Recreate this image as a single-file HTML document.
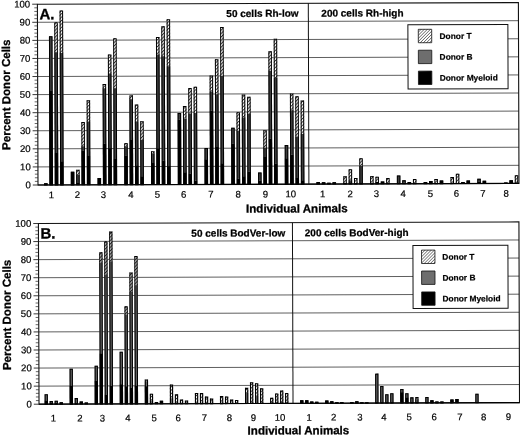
<!DOCTYPE html>
<html><head><meta charset="utf-8"><title>Figure</title>
<style>
html,body{margin:0;padding:0;background:#fff;}
body{width:520px;height:436px;overflow:hidden;}
svg{display:block;}
text{font-family:"Liberation Sans",Arial,Helvetica,sans-serif;fill:#111;}
.tk{font-size:9.6px;fill:#000;stroke:#000;stroke-width:0.2px;}
.pl{font-size:15px;font-weight:bold;fill:#000;stroke:#000;stroke-width:0.3px;}
.hd{font-size:10px;font-weight:bold;fill:#000;stroke:#000;stroke-width:0.25px;}
.ti{font-size:11.55px;font-weight:bold;fill:#000;stroke:#000;stroke-width:0.3px;}
.lg{font-size:8.4px;font-weight:bold;fill:#000;stroke:#000;stroke-width:0.2px;}
</style></head><body>
<svg width="520" height="436" viewBox="0 0 520 436">
<defs>
<pattern id="hatch" width="2.4" height="2.4" patternUnits="userSpaceOnUse" patternTransform="rotate(-45)">
<rect width="2.4" height="2.4" fill="#fff"/><rect width="2.4" height="0.9" fill="#333"/></pattern>
<pattern id="hatchL" width="2.2" height="2.2" patternUnits="userSpaceOnUse" patternTransform="rotate(-45)">
<rect width="2.2" height="2.2" fill="#fff"/><rect width="2.2" height="0.6" fill="#444"/></pattern>
</defs>
<rect width="520" height="436" fill="#fff"/>
<g transform="rotate(-0.19 37.6 4.2)">
<line x1="37.4" y1="166.92" x2="518.4" y2="166.92" stroke="#2a2a2a" stroke-width="0.75"/>
<line x1="37.4" y1="148.84" x2="518.4" y2="148.84" stroke="#2a2a2a" stroke-width="0.75"/>
<line x1="37.4" y1="130.76" x2="518.4" y2="130.76" stroke="#2a2a2a" stroke-width="0.75"/>
<line x1="37.4" y1="112.68" x2="518.4" y2="112.68" stroke="#2a2a2a" stroke-width="0.75"/>
<line x1="37.4" y1="94.60" x2="518.4" y2="94.60" stroke="#2a2a2a" stroke-width="0.75"/>
<line x1="37.4" y1="76.52" x2="518.4" y2="76.52" stroke="#2a2a2a" stroke-width="0.75"/>
<line x1="37.4" y1="58.44" x2="518.4" y2="58.44" stroke="#2a2a2a" stroke-width="0.75"/>
<line x1="37.4" y1="40.36" x2="518.4" y2="40.36" stroke="#2a2a2a" stroke-width="0.75"/>
<line x1="37.4" y1="22.28" x2="518.4" y2="22.28" stroke="#2a2a2a" stroke-width="0.75"/>
<rect x="43.50" y="183.19" width="3.50" height="1.81" fill="#000"/>
<rect x="44.00" y="183.69" width="2.50" height="1.31" fill="none" stroke="#000" stroke-width="1.0"/>
<rect x="48.85" y="36.20" width="3.50" height="54.78" fill="#3e3e3e"/>
<rect x="48.85" y="90.98" width="3.50" height="94.02" fill="#000"/>
<rect x="49.35" y="36.70" width="2.50" height="148.30" fill="none" stroke="#000" stroke-width="1.0"/>
<rect x="54.20" y="22.28" width="3.50" height="30.01" fill="url(#hatch)"/>
<rect x="54.20" y="52.29" width="3.50" height="100.89" fill="#3e3e3e"/>
<rect x="54.20" y="153.18" width="3.50" height="31.82" fill="#000"/>
<rect x="54.70" y="22.78" width="2.50" height="162.22" fill="none" stroke="#000" stroke-width="1.0"/>
<rect x="59.55" y="10.53" width="3.50" height="42.49" fill="url(#hatch)"/>
<rect x="59.55" y="53.02" width="3.50" height="108.30" fill="#3e3e3e"/>
<rect x="59.55" y="161.32" width="3.50" height="23.68" fill="#000"/>
<rect x="60.05" y="11.03" width="2.50" height="173.97" fill="none" stroke="#000" stroke-width="1.0"/>
<rect x="70.25" y="171.98" width="3.50" height="13.02" fill="#000"/>
<rect x="70.75" y="172.48" width="2.50" height="12.52" fill="none" stroke="#000" stroke-width="1.0"/>
<rect x="75.60" y="169.99" width="3.50" height="5.06" fill="url(#hatch)"/>
<rect x="75.60" y="175.06" width="3.50" height="8.14" fill="#3e3e3e"/>
<rect x="75.60" y="183.19" width="3.50" height="1.81" fill="#000"/>
<rect x="76.10" y="170.49" width="2.50" height="14.51" fill="none" stroke="#000" stroke-width="1.0"/>
<rect x="80.95" y="122.26" width="3.50" height="24.05" fill="url(#hatch)"/>
<rect x="80.95" y="146.31" width="3.50" height="4.52" fill="#3e3e3e"/>
<rect x="80.95" y="150.83" width="3.50" height="34.17" fill="#000"/>
<rect x="81.45" y="122.76" width="2.50" height="62.24" fill="none" stroke="#000" stroke-width="1.0"/>
<rect x="86.30" y="100.39" width="3.50" height="21.33" fill="url(#hatch)"/>
<rect x="86.30" y="121.72" width="3.50" height="34.53" fill="#3e3e3e"/>
<rect x="86.30" y="156.25" width="3.50" height="28.75" fill="#000"/>
<rect x="86.80" y="100.89" width="2.50" height="84.11" fill="none" stroke="#000" stroke-width="1.0"/>
<rect x="97.00" y="178.31" width="3.50" height="6.69" fill="#000"/>
<rect x="97.50" y="178.81" width="2.50" height="6.19" fill="none" stroke="#000" stroke-width="1.0"/>
<rect x="102.35" y="84.11" width="3.50" height="4.34" fill="url(#hatch)"/>
<rect x="102.35" y="88.45" width="3.50" height="55.51" fill="#3e3e3e"/>
<rect x="102.35" y="143.96" width="3.50" height="41.04" fill="#000"/>
<rect x="102.85" y="84.61" width="2.50" height="100.39" fill="none" stroke="#000" stroke-width="1.0"/>
<rect x="107.70" y="54.82" width="3.50" height="18.98" fill="url(#hatch)"/>
<rect x="107.70" y="73.81" width="3.50" height="74.67" fill="#3e3e3e"/>
<rect x="107.70" y="148.48" width="3.50" height="36.52" fill="#000"/>
<rect x="108.20" y="55.32" width="2.50" height="129.68" fill="none" stroke="#000" stroke-width="1.0"/>
<rect x="113.05" y="38.55" width="3.50" height="49.90" fill="url(#hatch)"/>
<rect x="113.05" y="88.45" width="3.50" height="70.87" fill="#3e3e3e"/>
<rect x="113.05" y="159.33" width="3.50" height="25.67" fill="#000"/>
<rect x="113.55" y="39.05" width="2.50" height="145.95" fill="none" stroke="#000" stroke-width="1.0"/>
<rect x="123.75" y="143.42" width="3.50" height="3.07" fill="url(#hatch)"/>
<rect x="123.75" y="146.49" width="3.50" height="9.22" fill="#3e3e3e"/>
<rect x="123.75" y="155.71" width="3.50" height="29.29" fill="#000"/>
<rect x="124.25" y="143.92" width="2.50" height="41.08" fill="none" stroke="#000" stroke-width="1.0"/>
<rect x="129.10" y="95.68" width="3.50" height="3.80" fill="url(#hatch)"/>
<rect x="129.10" y="99.48" width="3.50" height="40.86" fill="#3e3e3e"/>
<rect x="129.10" y="140.34" width="3.50" height="44.66" fill="#000"/>
<rect x="129.60" y="96.18" width="2.50" height="88.82" fill="none" stroke="#000" stroke-width="1.0"/>
<rect x="134.45" y="104.91" width="3.50" height="16.81" fill="url(#hatch)"/>
<rect x="134.45" y="121.72" width="3.50" height="43.93" fill="#3e3e3e"/>
<rect x="134.45" y="165.65" width="3.50" height="19.35" fill="#000"/>
<rect x="134.95" y="105.41" width="2.50" height="79.59" fill="none" stroke="#000" stroke-width="1.0"/>
<rect x="139.80" y="121.54" width="3.50" height="18.80" fill="url(#hatch)"/>
<rect x="139.80" y="140.34" width="3.50" height="36.16" fill="#3e3e3e"/>
<rect x="139.80" y="176.50" width="3.50" height="8.50" fill="#000"/>
<rect x="140.30" y="122.04" width="2.50" height="62.96" fill="none" stroke="#000" stroke-width="1.0"/>
<rect x="150.50" y="151.55" width="3.50" height="2.35" fill="url(#hatch)"/>
<rect x="150.50" y="153.90" width="3.50" height="9.58" fill="#3e3e3e"/>
<rect x="150.50" y="163.48" width="3.50" height="21.52" fill="#000"/>
<rect x="151.00" y="152.05" width="2.50" height="32.95" fill="none" stroke="#000" stroke-width="1.0"/>
<rect x="155.85" y="37.29" width="3.50" height="17.72" fill="url(#hatch)"/>
<rect x="155.85" y="55.00" width="3.50" height="93.84" fill="#3e3e3e"/>
<rect x="155.85" y="148.84" width="3.50" height="36.16" fill="#000"/>
<rect x="156.35" y="37.79" width="2.50" height="147.21" fill="none" stroke="#000" stroke-width="1.0"/>
<rect x="161.20" y="26.62" width="3.50" height="30.01" fill="url(#hatch)"/>
<rect x="161.20" y="56.63" width="3.50" height="104.50" fill="#3e3e3e"/>
<rect x="161.20" y="161.13" width="3.50" height="23.87" fill="#000"/>
<rect x="161.70" y="27.12" width="2.50" height="157.88" fill="none" stroke="#000" stroke-width="1.0"/>
<rect x="166.55" y="19.57" width="3.50" height="47.01" fill="url(#hatch)"/>
<rect x="166.55" y="66.58" width="3.50" height="99.98" fill="#3e3e3e"/>
<rect x="166.55" y="166.56" width="3.50" height="18.44" fill="#000"/>
<rect x="167.05" y="20.07" width="2.50" height="164.93" fill="none" stroke="#000" stroke-width="1.0"/>
<rect x="177.25" y="113.40" width="3.50" height="6.87" fill="#3e3e3e"/>
<rect x="177.25" y="120.27" width="3.50" height="64.73" fill="#000"/>
<rect x="177.75" y="113.90" width="2.50" height="71.10" fill="none" stroke="#000" stroke-width="1.0"/>
<rect x="182.60" y="106.53" width="3.50" height="13.02" fill="url(#hatch)"/>
<rect x="182.60" y="119.55" width="3.50" height="53.16" fill="#3e3e3e"/>
<rect x="182.60" y="172.71" width="3.50" height="12.29" fill="#000"/>
<rect x="183.10" y="107.03" width="2.50" height="77.97" fill="none" stroke="#000" stroke-width="1.0"/>
<rect x="187.95" y="88.45" width="3.50" height="25.67" fill="url(#hatch)"/>
<rect x="187.95" y="114.13" width="3.50" height="60.03" fill="#3e3e3e"/>
<rect x="187.95" y="174.15" width="3.50" height="10.85" fill="#000"/>
<rect x="188.45" y="88.95" width="2.50" height="96.05" fill="none" stroke="#000" stroke-width="1.0"/>
<rect x="193.30" y="87.19" width="3.50" height="26.22" fill="url(#hatch)"/>
<rect x="193.30" y="113.40" width="3.50" height="67.80" fill="#3e3e3e"/>
<rect x="193.30" y="181.20" width="3.50" height="3.80" fill="#000"/>
<rect x="193.80" y="87.69" width="2.50" height="97.31" fill="none" stroke="#000" stroke-width="1.0"/>
<rect x="204.00" y="148.66" width="3.50" height="11.21" fill="#3e3e3e"/>
<rect x="204.00" y="159.87" width="3.50" height="25.13" fill="#000"/>
<rect x="204.50" y="149.16" width="2.50" height="35.84" fill="none" stroke="#000" stroke-width="1.0"/>
<rect x="209.35" y="75.98" width="3.50" height="16.09" fill="url(#hatch)"/>
<rect x="209.35" y="92.07" width="3.50" height="19.35" fill="#3e3e3e"/>
<rect x="209.35" y="111.41" width="3.50" height="73.59" fill="#000"/>
<rect x="209.85" y="76.48" width="2.50" height="108.52" fill="none" stroke="#000" stroke-width="1.0"/>
<rect x="214.70" y="59.89" width="3.50" height="34.89" fill="url(#hatch)"/>
<rect x="214.70" y="94.78" width="3.50" height="52.79" fill="#3e3e3e"/>
<rect x="214.70" y="147.57" width="3.50" height="37.43" fill="#000"/>
<rect x="215.20" y="60.39" width="2.50" height="124.61" fill="none" stroke="#000" stroke-width="1.0"/>
<rect x="220.05" y="27.52" width="3.50" height="49.18" fill="url(#hatch)"/>
<rect x="220.05" y="76.70" width="3.50" height="87.15" fill="#3e3e3e"/>
<rect x="220.05" y="163.85" width="3.50" height="21.15" fill="#000"/>
<rect x="220.55" y="28.02" width="2.50" height="156.98" fill="none" stroke="#000" stroke-width="1.0"/>
<rect x="230.75" y="128.41" width="3.50" height="16.09" fill="#3e3e3e"/>
<rect x="230.75" y="144.50" width="3.50" height="40.50" fill="#000"/>
<rect x="231.25" y="128.91" width="2.50" height="56.09" fill="none" stroke="#000" stroke-width="1.0"/>
<rect x="236.10" y="112.86" width="3.50" height="18.62" fill="url(#hatch)"/>
<rect x="236.10" y="131.48" width="3.50" height="47.73" fill="#3e3e3e"/>
<rect x="236.10" y="179.21" width="3.50" height="5.79" fill="#000"/>
<rect x="236.60" y="113.36" width="2.50" height="71.64" fill="none" stroke="#000" stroke-width="1.0"/>
<rect x="241.45" y="95.14" width="3.50" height="23.14" fill="url(#hatch)"/>
<rect x="241.45" y="118.28" width="3.50" height="58.58" fill="#3e3e3e"/>
<rect x="241.45" y="176.86" width="3.50" height="8.14" fill="#000"/>
<rect x="241.95" y="95.64" width="2.50" height="89.36" fill="none" stroke="#000" stroke-width="1.0"/>
<rect x="246.80" y="97.49" width="3.50" height="17.00" fill="url(#hatch)"/>
<rect x="246.80" y="114.49" width="3.50" height="57.68" fill="#3e3e3e"/>
<rect x="246.80" y="172.16" width="3.50" height="12.84" fill="#000"/>
<rect x="247.30" y="97.99" width="2.50" height="87.01" fill="none" stroke="#000" stroke-width="1.0"/>
<rect x="257.50" y="173.25" width="3.50" height="8.14" fill="#3e3e3e"/>
<rect x="257.50" y="181.38" width="3.50" height="3.62" fill="#000"/>
<rect x="258.00" y="173.75" width="2.50" height="11.25" fill="none" stroke="#000" stroke-width="1.0"/>
<rect x="262.85" y="131.12" width="3.50" height="17.36" fill="url(#hatch)"/>
<rect x="262.85" y="148.48" width="3.50" height="9.22" fill="#3e3e3e"/>
<rect x="262.85" y="157.70" width="3.50" height="27.30" fill="#000"/>
<rect x="263.35" y="131.62" width="2.50" height="53.38" fill="none" stroke="#000" stroke-width="1.0"/>
<rect x="268.20" y="52.11" width="3.50" height="19.53" fill="url(#hatch)"/>
<rect x="268.20" y="71.64" width="3.50" height="67.80" fill="#3e3e3e"/>
<rect x="268.20" y="139.44" width="3.50" height="45.56" fill="#000"/>
<rect x="268.70" y="52.61" width="2.50" height="132.39" fill="none" stroke="#000" stroke-width="1.0"/>
<rect x="273.55" y="39.46" width="3.50" height="39.23" fill="url(#hatch)"/>
<rect x="273.55" y="78.69" width="3.50" height="85.52" fill="#3e3e3e"/>
<rect x="273.55" y="164.21" width="3.50" height="20.79" fill="#000"/>
<rect x="274.05" y="39.96" width="2.50" height="145.04" fill="none" stroke="#000" stroke-width="1.0"/>
<rect x="284.25" y="145.77" width="3.50" height="13.20" fill="#3e3e3e"/>
<rect x="284.25" y="158.96" width="3.50" height="26.04" fill="#000"/>
<rect x="284.75" y="146.27" width="2.50" height="38.73" fill="none" stroke="#000" stroke-width="1.0"/>
<rect x="289.60" y="94.42" width="3.50" height="16.63" fill="url(#hatch)"/>
<rect x="289.60" y="111.05" width="3.50" height="44.48" fill="#3e3e3e"/>
<rect x="289.60" y="155.53" width="3.50" height="29.47" fill="#000"/>
<rect x="290.10" y="94.92" width="2.50" height="90.08" fill="none" stroke="#000" stroke-width="1.0"/>
<rect x="294.95" y="97.13" width="3.50" height="40.50" fill="url(#hatch)"/>
<rect x="294.95" y="137.63" width="3.50" height="41.22" fill="#3e3e3e"/>
<rect x="294.95" y="178.85" width="3.50" height="6.15" fill="#000"/>
<rect x="295.45" y="97.63" width="2.50" height="87.37" fill="none" stroke="#000" stroke-width="1.0"/>
<rect x="300.30" y="101.29" width="3.50" height="33.63" fill="url(#hatch)"/>
<rect x="300.30" y="134.92" width="3.50" height="46.10" fill="#3e3e3e"/>
<rect x="300.30" y="181.02" width="3.50" height="3.98" fill="#000"/>
<rect x="300.80" y="101.79" width="2.50" height="83.21" fill="none" stroke="#000" stroke-width="1.0"/>
<rect x="315.90" y="182.83" width="3.50" height="2.17" fill="#000"/>
<rect x="316.40" y="183.33" width="2.50" height="1.67" fill="none" stroke="#000" stroke-width="1.0"/>
<rect x="321.25" y="183.19" width="3.50" height="1.81" fill="#000"/>
<rect x="321.75" y="183.69" width="2.50" height="1.31" fill="none" stroke="#000" stroke-width="1.0"/>
<rect x="326.60" y="183.73" width="3.50" height="1.27" fill="#000"/>
<rect x="327.10" y="184.23" width="2.50" height="0.77" fill="none" stroke="#000" stroke-width="1.0"/>
<rect x="331.95" y="183.19" width="3.50" height="1.81" fill="#000"/>
<rect x="332.45" y="183.69" width="2.50" height="1.31" fill="none" stroke="#000" stroke-width="1.0"/>
<rect x="342.70" y="177.23" width="3.50" height="6.87" fill="url(#hatch)"/>
<rect x="342.70" y="184.10" width="3.50" height="0.90" fill="#000"/>
<rect x="343.20" y="177.73" width="2.50" height="7.27" fill="none" stroke="#000" stroke-width="1.0"/>
<rect x="348.05" y="170.17" width="3.50" height="11.21" fill="url(#hatch)"/>
<rect x="348.05" y="181.38" width="3.50" height="1.81" fill="#3e3e3e"/>
<rect x="348.05" y="183.19" width="3.50" height="1.81" fill="#000"/>
<rect x="348.55" y="170.67" width="2.50" height="14.33" fill="none" stroke="#000" stroke-width="1.0"/>
<rect x="353.40" y="179.03" width="3.50" height="5.42" fill="url(#hatch)"/>
<rect x="353.40" y="184.46" width="3.50" height="0.54" fill="#000"/>
<rect x="353.90" y="179.53" width="2.50" height="5.47" fill="none" stroke="#000" stroke-width="1.0"/>
<rect x="358.75" y="159.33" width="3.50" height="7.77" fill="url(#hatch)"/>
<rect x="358.75" y="167.10" width="3.50" height="17.00" fill="#3e3e3e"/>
<rect x="358.75" y="184.10" width="3.50" height="0.90" fill="#000"/>
<rect x="359.25" y="159.83" width="2.50" height="25.17" fill="none" stroke="#000" stroke-width="1.0"/>
<rect x="369.50" y="177.23" width="3.50" height="7.23" fill="url(#hatch)"/>
<rect x="369.50" y="184.46" width="3.50" height="0.54" fill="#000"/>
<rect x="370.00" y="177.73" width="2.50" height="7.27" fill="none" stroke="#000" stroke-width="1.0"/>
<rect x="374.85" y="177.77" width="3.50" height="5.42" fill="url(#hatch)"/>
<rect x="374.85" y="183.19" width="3.50" height="1.81" fill="#000"/>
<rect x="375.35" y="178.27" width="2.50" height="6.73" fill="none" stroke="#000" stroke-width="1.0"/>
<rect x="380.20" y="182.65" width="3.50" height="2.35" fill="#000"/>
<rect x="380.70" y="183.15" width="2.50" height="1.85" fill="none" stroke="#000" stroke-width="1.0"/>
<rect x="385.55" y="179.21" width="3.50" height="4.88" fill="url(#hatch)"/>
<rect x="385.55" y="184.10" width="3.50" height="0.90" fill="#000"/>
<rect x="386.05" y="179.71" width="2.50" height="5.29" fill="none" stroke="#000" stroke-width="1.0"/>
<rect x="396.30" y="176.68" width="3.50" height="7.41" fill="#3e3e3e"/>
<rect x="396.30" y="184.10" width="3.50" height="0.90" fill="#000"/>
<rect x="396.80" y="177.18" width="2.50" height="7.82" fill="none" stroke="#000" stroke-width="1.0"/>
<rect x="401.65" y="181.38" width="3.50" height="2.71" fill="#3e3e3e"/>
<rect x="401.65" y="184.10" width="3.50" height="0.90" fill="#000"/>
<rect x="402.15" y="181.88" width="2.50" height="3.12" fill="none" stroke="#000" stroke-width="1.0"/>
<rect x="407.00" y="183.19" width="3.50" height="1.81" fill="#000"/>
<rect x="407.50" y="183.69" width="2.50" height="1.31" fill="none" stroke="#000" stroke-width="1.0"/>
<rect x="412.35" y="180.30" width="3.50" height="4.16" fill="url(#hatch)"/>
<rect x="412.35" y="184.46" width="3.50" height="0.54" fill="#000"/>
<rect x="412.85" y="180.80" width="2.50" height="4.20" fill="none" stroke="#000" stroke-width="1.0"/>
<rect x="423.10" y="183.37" width="3.50" height="1.63" fill="#000"/>
<rect x="423.60" y="183.87" width="2.50" height="1.13" fill="none" stroke="#000" stroke-width="1.0"/>
<rect x="428.45" y="182.29" width="3.50" height="2.71" fill="#000"/>
<rect x="428.95" y="182.79" width="2.50" height="2.21" fill="none" stroke="#000" stroke-width="1.0"/>
<rect x="433.80" y="180.30" width="3.50" height="4.16" fill="url(#hatch)"/>
<rect x="433.80" y="184.46" width="3.50" height="0.54" fill="#000"/>
<rect x="434.30" y="180.80" width="2.50" height="4.20" fill="none" stroke="#000" stroke-width="1.0"/>
<rect x="439.15" y="181.93" width="3.50" height="3.07" fill="#000"/>
<rect x="439.65" y="182.43" width="2.50" height="2.57" fill="none" stroke="#000" stroke-width="1.0"/>
<rect x="449.90" y="178.31" width="3.50" height="6.15" fill="url(#hatch)"/>
<rect x="449.90" y="184.46" width="3.50" height="0.54" fill="#000"/>
<rect x="450.40" y="178.81" width="2.50" height="6.19" fill="none" stroke="#000" stroke-width="1.0"/>
<rect x="455.25" y="175.24" width="3.50" height="9.22" fill="url(#hatch)"/>
<rect x="455.25" y="184.46" width="3.50" height="0.54" fill="#000"/>
<rect x="455.75" y="175.74" width="2.50" height="9.26" fill="none" stroke="#000" stroke-width="1.0"/>
<rect x="460.60" y="183.37" width="3.50" height="1.63" fill="#000"/>
<rect x="461.10" y="183.87" width="2.50" height="1.13" fill="none" stroke="#000" stroke-width="1.0"/>
<rect x="465.95" y="181.93" width="3.50" height="3.07" fill="#000"/>
<rect x="466.45" y="182.43" width="2.50" height="2.57" fill="none" stroke="#000" stroke-width="1.0"/>
<rect x="476.70" y="180.30" width="3.50" height="2.89" fill="#3e3e3e"/>
<rect x="476.70" y="183.19" width="3.50" height="1.81" fill="#000"/>
<rect x="477.20" y="180.80" width="2.50" height="4.20" fill="none" stroke="#000" stroke-width="1.0"/>
<rect x="482.05" y="182.29" width="3.50" height="2.71" fill="#000"/>
<rect x="482.55" y="182.79" width="2.50" height="2.21" fill="none" stroke="#000" stroke-width="1.0"/>
<rect x="503.50" y="184.10" width="3.50" height="0.90" fill="#000"/>
<rect x="504.00" y="184.60" width="2.50" height="0.40" fill="none" stroke="#000" stroke-width="1.0"/>
<rect x="508.85" y="181.93" width="3.50" height="3.07" fill="#000"/>
<rect x="509.35" y="182.43" width="2.50" height="2.57" fill="none" stroke="#000" stroke-width="1.0"/>
<rect x="514.20" y="176.86" width="3.50" height="7.59" fill="url(#hatch)"/>
<rect x="514.20" y="184.46" width="3.50" height="0.54" fill="#000"/>
<rect x="514.70" y="177.36" width="2.50" height="7.64" fill="none" stroke="#000" stroke-width="1.0"/>
<rect x="37.4" y="4.2" width="481.0" height="180.8" fill="none" stroke="#111" stroke-width="1.1"/>
<line x1="37.4" y1="185.0" x2="518.4" y2="185.0" stroke="#000" stroke-width="1.2"/>
<line x1="308.3" y1="4.2" x2="308.3" y2="185.0" stroke="#111" stroke-width="1"/>
<line x1="32.199999999999996" y1="185.00" x2="37.4" y2="185.00" stroke="#222" stroke-width="0.9"/>
<text x="30.2" y="188.20" text-anchor="end" class="tk">0</text>
<line x1="34.3" y1="181.38" x2="37.4" y2="181.38" stroke="#222" stroke-width="0.7"/>
<line x1="34.3" y1="177.77" x2="37.4" y2="177.77" stroke="#222" stroke-width="0.7"/>
<line x1="34.3" y1="174.15" x2="37.4" y2="174.15" stroke="#222" stroke-width="0.7"/>
<line x1="34.3" y1="170.54" x2="37.4" y2="170.54" stroke="#222" stroke-width="0.7"/>
<line x1="32.199999999999996" y1="166.92" x2="37.4" y2="166.92" stroke="#222" stroke-width="0.9"/>
<text x="30.2" y="170.12" text-anchor="end" class="tk">10</text>
<line x1="34.3" y1="163.30" x2="37.4" y2="163.30" stroke="#222" stroke-width="0.7"/>
<line x1="34.3" y1="159.69" x2="37.4" y2="159.69" stroke="#222" stroke-width="0.7"/>
<line x1="34.3" y1="156.07" x2="37.4" y2="156.07" stroke="#222" stroke-width="0.7"/>
<line x1="34.3" y1="152.46" x2="37.4" y2="152.46" stroke="#222" stroke-width="0.7"/>
<line x1="32.199999999999996" y1="148.84" x2="37.4" y2="148.84" stroke="#222" stroke-width="0.9"/>
<text x="30.2" y="152.04" text-anchor="end" class="tk">20</text>
<line x1="34.3" y1="145.22" x2="37.4" y2="145.22" stroke="#222" stroke-width="0.7"/>
<line x1="34.3" y1="141.61" x2="37.4" y2="141.61" stroke="#222" stroke-width="0.7"/>
<line x1="34.3" y1="137.99" x2="37.4" y2="137.99" stroke="#222" stroke-width="0.7"/>
<line x1="34.3" y1="134.38" x2="37.4" y2="134.38" stroke="#222" stroke-width="0.7"/>
<line x1="32.199999999999996" y1="130.76" x2="37.4" y2="130.76" stroke="#222" stroke-width="0.9"/>
<text x="30.2" y="133.96" text-anchor="end" class="tk">30</text>
<line x1="34.3" y1="127.14" x2="37.4" y2="127.14" stroke="#222" stroke-width="0.7"/>
<line x1="34.3" y1="123.53" x2="37.4" y2="123.53" stroke="#222" stroke-width="0.7"/>
<line x1="34.3" y1="119.91" x2="37.4" y2="119.91" stroke="#222" stroke-width="0.7"/>
<line x1="34.3" y1="116.30" x2="37.4" y2="116.30" stroke="#222" stroke-width="0.7"/>
<line x1="32.199999999999996" y1="112.68" x2="37.4" y2="112.68" stroke="#222" stroke-width="0.9"/>
<text x="30.2" y="115.88" text-anchor="end" class="tk">40</text>
<line x1="34.3" y1="109.06" x2="37.4" y2="109.06" stroke="#222" stroke-width="0.7"/>
<line x1="34.3" y1="105.45" x2="37.4" y2="105.45" stroke="#222" stroke-width="0.7"/>
<line x1="34.3" y1="101.83" x2="37.4" y2="101.83" stroke="#222" stroke-width="0.7"/>
<line x1="34.3" y1="98.22" x2="37.4" y2="98.22" stroke="#222" stroke-width="0.7"/>
<line x1="32.199999999999996" y1="94.60" x2="37.4" y2="94.60" stroke="#222" stroke-width="0.9"/>
<text x="30.2" y="97.80" text-anchor="end" class="tk">50</text>
<line x1="34.3" y1="90.98" x2="37.4" y2="90.98" stroke="#222" stroke-width="0.7"/>
<line x1="34.3" y1="87.37" x2="37.4" y2="87.37" stroke="#222" stroke-width="0.7"/>
<line x1="34.3" y1="83.75" x2="37.4" y2="83.75" stroke="#222" stroke-width="0.7"/>
<line x1="34.3" y1="80.14" x2="37.4" y2="80.14" stroke="#222" stroke-width="0.7"/>
<line x1="32.199999999999996" y1="76.52" x2="37.4" y2="76.52" stroke="#222" stroke-width="0.9"/>
<text x="30.2" y="79.72" text-anchor="end" class="tk">60</text>
<line x1="34.3" y1="72.90" x2="37.4" y2="72.90" stroke="#222" stroke-width="0.7"/>
<line x1="34.3" y1="69.29" x2="37.4" y2="69.29" stroke="#222" stroke-width="0.7"/>
<line x1="34.3" y1="65.67" x2="37.4" y2="65.67" stroke="#222" stroke-width="0.7"/>
<line x1="34.3" y1="62.06" x2="37.4" y2="62.06" stroke="#222" stroke-width="0.7"/>
<line x1="32.199999999999996" y1="58.44" x2="37.4" y2="58.44" stroke="#222" stroke-width="0.9"/>
<text x="30.2" y="61.64" text-anchor="end" class="tk">70</text>
<line x1="34.3" y1="54.82" x2="37.4" y2="54.82" stroke="#222" stroke-width="0.7"/>
<line x1="34.3" y1="51.21" x2="37.4" y2="51.21" stroke="#222" stroke-width="0.7"/>
<line x1="34.3" y1="47.59" x2="37.4" y2="47.59" stroke="#222" stroke-width="0.7"/>
<line x1="34.3" y1="43.98" x2="37.4" y2="43.98" stroke="#222" stroke-width="0.7"/>
<line x1="32.199999999999996" y1="40.36" x2="37.4" y2="40.36" stroke="#222" stroke-width="0.9"/>
<text x="30.2" y="43.56" text-anchor="end" class="tk">80</text>
<line x1="34.3" y1="36.74" x2="37.4" y2="36.74" stroke="#222" stroke-width="0.7"/>
<line x1="34.3" y1="33.13" x2="37.4" y2="33.13" stroke="#222" stroke-width="0.7"/>
<line x1="34.3" y1="29.51" x2="37.4" y2="29.51" stroke="#222" stroke-width="0.7"/>
<line x1="34.3" y1="25.90" x2="37.4" y2="25.90" stroke="#222" stroke-width="0.7"/>
<line x1="32.199999999999996" y1="22.28" x2="37.4" y2="22.28" stroke="#222" stroke-width="0.9"/>
<text x="30.2" y="25.48" text-anchor="end" class="tk">90</text>
<line x1="34.3" y1="18.66" x2="37.4" y2="18.66" stroke="#222" stroke-width="0.7"/>
<line x1="34.3" y1="15.05" x2="37.4" y2="15.05" stroke="#222" stroke-width="0.7"/>
<line x1="34.3" y1="11.43" x2="37.4" y2="11.43" stroke="#222" stroke-width="0.7"/>
<line x1="34.3" y1="7.82" x2="37.4" y2="7.82" stroke="#222" stroke-width="0.7"/>
<line x1="32.199999999999996" y1="4.20" x2="37.4" y2="4.20" stroke="#222" stroke-width="0.9"/>
<text x="30.2" y="7.40" text-anchor="end" class="tk">100</text>
<text x="39.4" y="19.3" class="pl">A.</text>
<text x="226.3" y="17.6" class="hd">50 cells Rh-low</text>
<text x="321.3" y="17.6" class="hd">200 cells Rh-high</text>
<text x="50.80" y="198.2" text-anchor="middle" class="tk">1</text>
<text x="76.90" y="198.2" text-anchor="middle" class="tk">2</text>
<text x="102.70" y="198.2" text-anchor="middle" class="tk">3</text>
<text x="130.40" y="198.2" text-anchor="middle" class="tk">4</text>
<text x="156.70" y="198.2" text-anchor="middle" class="tk">5</text>
<text x="183.10" y="198.2" text-anchor="middle" class="tk">6</text>
<text x="210.20" y="198.2" text-anchor="middle" class="tk">7</text>
<text x="237.60" y="198.2" text-anchor="middle" class="tk">8</text>
<text x="264.90" y="198.2" text-anchor="middle" class="tk">9</text>
<text x="290.10" y="198.2" text-anchor="middle" class="tk">10</text>
<text x="322.10" y="198.2" text-anchor="middle" class="tk">1</text>
<text x="349.60" y="198.2" text-anchor="middle" class="tk">2</text>
<text x="375.90" y="198.2" text-anchor="middle" class="tk">3</text>
<text x="402.60" y="198.2" text-anchor="middle" class="tk">4</text>
<text x="429.90" y="198.2" text-anchor="middle" class="tk">5</text>
<text x="455.90" y="198.2" text-anchor="middle" class="tk">6</text>
<text x="482.40" y="198.2" text-anchor="middle" class="tk">7</text>
<text x="505.60" y="198.2" text-anchor="middle" class="tk">8</text>
<text x="245.4" y="213.3" class="ti">Individual Animals</text>
<text transform="translate(9.8 94.6) rotate(-90)" text-anchor="middle" class="ti">Percent Donor Cells</text>
<rect x="407.8" y="26.0" width="100" height="64.2" fill="#fff" stroke="#111" stroke-width="1"/>
<rect x="418.2" y="30.60" width="13.4" height="13.4" fill="url(#hatchL)" stroke="#111" stroke-width="0.8"/>
<text x="439.4" y="40.30" class="lg">Donor T</text>
<rect x="418.2" y="51.50" width="13.4" height="13.4" fill="#6e6e6e" stroke="#111" stroke-width="0.8"/>
<text x="439.4" y="61.20" class="lg">Donor B</text>
<rect x="418.2" y="72.40" width="13.4" height="13.4" fill="#000" stroke="#111" stroke-width="0.8"/>
<text x="439.4" y="82.10" class="lg">Donor Myeloid</text>
<line x1="37.7" y1="386.13" x2="518.2" y2="386.13" stroke="#2a2a2a" stroke-width="0.75"/>
<line x1="37.7" y1="368.06" x2="518.2" y2="368.06" stroke="#2a2a2a" stroke-width="0.75"/>
<line x1="37.7" y1="349.99" x2="518.2" y2="349.99" stroke="#2a2a2a" stroke-width="0.75"/>
<line x1="37.7" y1="331.92" x2="518.2" y2="331.92" stroke="#2a2a2a" stroke-width="0.75"/>
<line x1="37.7" y1="313.85" x2="518.2" y2="313.85" stroke="#2a2a2a" stroke-width="0.75"/>
<line x1="37.7" y1="295.78" x2="518.2" y2="295.78" stroke="#2a2a2a" stroke-width="0.75"/>
<line x1="37.7" y1="277.71" x2="518.2" y2="277.71" stroke="#2a2a2a" stroke-width="0.75"/>
<line x1="37.7" y1="259.64" x2="518.2" y2="259.64" stroke="#2a2a2a" stroke-width="0.75"/>
<line x1="37.7" y1="241.57" x2="518.2" y2="241.57" stroke="#2a2a2a" stroke-width="0.75"/>
<rect x="43.30" y="394.26" width="3.30" height="6.32" fill="#6a6a6a"/>
<rect x="43.30" y="400.59" width="3.30" height="3.61" fill="#000"/>
<rect x="43.85" y="394.81" width="2.20" height="9.39" fill="none" stroke="#000" stroke-width="1.1"/>
<rect x="48.30" y="401.13" width="3.30" height="1.81" fill="#6a6a6a"/>
<rect x="48.30" y="402.94" width="3.30" height="1.26" fill="#000"/>
<rect x="48.85" y="401.68" width="2.20" height="2.52" fill="none" stroke="#000" stroke-width="1.1"/>
<rect x="53.30" y="400.77" width="3.30" height="1.99" fill="#6a6a6a"/>
<rect x="53.30" y="402.75" width="3.30" height="1.45" fill="#000"/>
<rect x="53.85" y="401.32" width="2.20" height="2.88" fill="none" stroke="#000" stroke-width="1.1"/>
<rect x="58.30" y="402.21" width="3.30" height="1.99" fill="#000"/>
<rect x="58.85" y="402.76" width="2.20" height="1.44" fill="none" stroke="#000" stroke-width="1.1"/>
<rect x="68.35" y="368.78" width="3.30" height="16.99" fill="#6a6a6a"/>
<rect x="68.35" y="385.77" width="3.30" height="18.43" fill="#000"/>
<rect x="68.90" y="369.33" width="2.20" height="34.87" fill="none" stroke="#000" stroke-width="1.1"/>
<rect x="73.35" y="398.24" width="3.30" height="5.06" fill="#6a6a6a"/>
<rect x="73.35" y="403.30" width="3.30" height="0.90" fill="#000"/>
<rect x="73.90" y="398.79" width="2.20" height="5.41" fill="none" stroke="#000" stroke-width="1.1"/>
<rect x="78.35" y="401.67" width="3.30" height="2.53" fill="#000"/>
<rect x="78.90" y="402.22" width="2.20" height="1.98" fill="none" stroke="#000" stroke-width="1.1"/>
<rect x="83.35" y="402.57" width="3.30" height="1.63" fill="#000"/>
<rect x="83.90" y="403.12" width="2.20" height="1.08" fill="none" stroke="#000" stroke-width="1.1"/>
<rect x="93.40" y="365.89" width="3.30" height="15.18" fill="#6a6a6a"/>
<rect x="93.40" y="381.07" width="3.30" height="23.13" fill="#000"/>
<rect x="93.95" y="366.44" width="2.20" height="37.76" fill="none" stroke="#000" stroke-width="1.1"/>
<rect x="98.40" y="252.41" width="3.30" height="10.48" fill="url(#hatch)"/>
<rect x="98.40" y="262.89" width="3.30" height="90.71" fill="#6a6a6a"/>
<rect x="98.40" y="353.60" width="3.30" height="50.60" fill="#000"/>
<rect x="98.95" y="252.96" width="2.20" height="151.24" fill="none" stroke="#000" stroke-width="1.1"/>
<rect x="103.40" y="241.57" width="3.30" height="33.43" fill="url(#hatch)"/>
<rect x="103.40" y="275.00" width="3.30" height="119.98" fill="#6a6a6a"/>
<rect x="103.40" y="394.98" width="3.30" height="9.22" fill="#000"/>
<rect x="103.95" y="242.12" width="2.20" height="162.08" fill="none" stroke="#000" stroke-width="1.1"/>
<rect x="108.40" y="231.81" width="3.30" height="30.00" fill="url(#hatch)"/>
<rect x="108.40" y="261.81" width="3.30" height="124.32" fill="#6a6a6a"/>
<rect x="108.40" y="386.13" width="3.30" height="18.07" fill="#000"/>
<rect x="108.95" y="232.36" width="2.20" height="171.84" fill="none" stroke="#000" stroke-width="1.1"/>
<rect x="118.45" y="351.98" width="3.30" height="32.53" fill="#6a6a6a"/>
<rect x="118.45" y="384.50" width="3.30" height="19.70" fill="#000"/>
<rect x="119.00" y="352.53" width="2.20" height="51.67" fill="none" stroke="#000" stroke-width="1.1"/>
<rect x="123.45" y="306.62" width="3.30" height="8.31" fill="url(#hatch)"/>
<rect x="123.45" y="314.93" width="3.30" height="71.74" fill="#6a6a6a"/>
<rect x="123.45" y="386.67" width="3.30" height="17.53" fill="#000"/>
<rect x="124.00" y="307.17" width="2.20" height="97.03" fill="none" stroke="#000" stroke-width="1.1"/>
<rect x="128.45" y="272.83" width="3.30" height="19.52" fill="url(#hatch)"/>
<rect x="128.45" y="292.35" width="3.30" height="95.95" fill="#6a6a6a"/>
<rect x="128.45" y="388.30" width="3.30" height="15.90" fill="#000"/>
<rect x="129.00" y="273.38" width="2.20" height="130.82" fill="none" stroke="#000" stroke-width="1.1"/>
<rect x="133.45" y="256.21" width="3.30" height="29.27" fill="url(#hatch)"/>
<rect x="133.45" y="285.48" width="3.30" height="100.65" fill="#6a6a6a"/>
<rect x="133.45" y="386.13" width="3.30" height="18.07" fill="#000"/>
<rect x="134.00" y="256.76" width="2.20" height="147.44" fill="none" stroke="#000" stroke-width="1.1"/>
<rect x="143.50" y="379.81" width="3.30" height="1.81" fill="url(#hatch)"/>
<rect x="143.50" y="381.61" width="3.30" height="5.06" fill="#6a6a6a"/>
<rect x="143.50" y="386.67" width="3.30" height="17.53" fill="#000"/>
<rect x="144.05" y="380.36" width="2.20" height="23.84" fill="none" stroke="#000" stroke-width="1.1"/>
<rect x="148.50" y="394.08" width="3.30" height="6.51" fill="url(#hatch)"/>
<rect x="148.50" y="400.59" width="3.30" height="2.71" fill="#6a6a6a"/>
<rect x="148.50" y="403.30" width="3.30" height="0.90" fill="#000"/>
<rect x="149.05" y="394.63" width="2.20" height="9.57" fill="none" stroke="#000" stroke-width="1.1"/>
<rect x="153.50" y="402.39" width="3.30" height="1.81" fill="#000"/>
<rect x="154.05" y="402.94" width="2.20" height="1.26" fill="none" stroke="#000" stroke-width="1.1"/>
<rect x="158.50" y="401.13" width="3.30" height="3.07" fill="#000"/>
<rect x="159.05" y="401.68" width="2.20" height="2.52" fill="none" stroke="#000" stroke-width="1.1"/>
<rect x="168.55" y="385.05" width="3.30" height="13.73" fill="url(#hatch)"/>
<rect x="168.55" y="398.78" width="3.30" height="4.52" fill="#6a6a6a"/>
<rect x="168.55" y="403.30" width="3.30" height="0.90" fill="#000"/>
<rect x="169.10" y="385.60" width="2.20" height="18.60" fill="none" stroke="#000" stroke-width="1.1"/>
<rect x="173.55" y="394.80" width="3.30" height="7.59" fill="url(#hatch)"/>
<rect x="173.55" y="402.39" width="3.30" height="0.90" fill="#6a6a6a"/>
<rect x="173.55" y="403.30" width="3.30" height="0.90" fill="#000"/>
<rect x="174.10" y="395.35" width="2.20" height="8.85" fill="none" stroke="#000" stroke-width="1.1"/>
<rect x="178.55" y="399.86" width="3.30" height="3.43" fill="url(#hatch)"/>
<rect x="178.55" y="403.30" width="3.30" height="0.90" fill="#000"/>
<rect x="179.10" y="400.41" width="2.20" height="3.79" fill="none" stroke="#000" stroke-width="1.1"/>
<rect x="183.55" y="400.95" width="3.30" height="2.35" fill="url(#hatch)"/>
<rect x="183.55" y="403.30" width="3.30" height="0.90" fill="#000"/>
<rect x="184.10" y="401.50" width="2.20" height="2.70" fill="none" stroke="#000" stroke-width="1.1"/>
<rect x="193.60" y="393.54" width="3.30" height="9.76" fill="url(#hatch)"/>
<rect x="193.60" y="403.30" width="3.30" height="0.90" fill="#000"/>
<rect x="194.15" y="394.09" width="2.20" height="10.11" fill="none" stroke="#000" stroke-width="1.1"/>
<rect x="198.60" y="393.54" width="3.30" height="9.76" fill="url(#hatch)"/>
<rect x="198.60" y="403.30" width="3.30" height="0.90" fill="#000"/>
<rect x="199.15" y="394.09" width="2.20" height="10.11" fill="none" stroke="#000" stroke-width="1.1"/>
<rect x="203.60" y="397.15" width="3.30" height="6.14" fill="url(#hatch)"/>
<rect x="203.60" y="403.30" width="3.30" height="0.90" fill="#000"/>
<rect x="204.15" y="397.70" width="2.20" height="6.50" fill="none" stroke="#000" stroke-width="1.1"/>
<rect x="208.60" y="399.14" width="3.30" height="4.16" fill="url(#hatch)"/>
<rect x="208.60" y="403.30" width="3.30" height="0.90" fill="#000"/>
<rect x="209.15" y="399.69" width="2.20" height="4.51" fill="none" stroke="#000" stroke-width="1.1"/>
<rect x="218.65" y="396.61" width="3.30" height="6.69" fill="url(#hatch)"/>
<rect x="218.65" y="403.30" width="3.30" height="0.90" fill="#000"/>
<rect x="219.20" y="397.16" width="2.20" height="7.04" fill="none" stroke="#000" stroke-width="1.1"/>
<rect x="223.65" y="397.15" width="3.30" height="6.14" fill="url(#hatch)"/>
<rect x="223.65" y="403.30" width="3.30" height="0.90" fill="#000"/>
<rect x="224.20" y="397.70" width="2.20" height="6.50" fill="none" stroke="#000" stroke-width="1.1"/>
<rect x="228.65" y="400.22" width="3.30" height="3.07" fill="url(#hatch)"/>
<rect x="228.65" y="403.30" width="3.30" height="0.90" fill="#000"/>
<rect x="229.20" y="400.77" width="2.20" height="3.43" fill="none" stroke="#000" stroke-width="1.1"/>
<rect x="233.65" y="400.59" width="3.30" height="2.71" fill="url(#hatch)"/>
<rect x="233.65" y="403.30" width="3.30" height="0.90" fill="#000"/>
<rect x="234.20" y="401.14" width="2.20" height="3.06" fill="none" stroke="#000" stroke-width="1.1"/>
<rect x="243.70" y="388.48" width="3.30" height="4.88" fill="url(#hatch)"/>
<rect x="243.70" y="393.36" width="3.30" height="9.94" fill="#6a6a6a"/>
<rect x="243.70" y="403.30" width="3.30" height="0.90" fill="#000"/>
<rect x="244.25" y="389.03" width="2.20" height="15.17" fill="none" stroke="#000" stroke-width="1.1"/>
<rect x="248.70" y="382.88" width="3.30" height="20.42" fill="url(#hatch)"/>
<rect x="248.70" y="403.30" width="3.30" height="0.90" fill="#000"/>
<rect x="249.25" y="383.43" width="2.20" height="20.77" fill="none" stroke="#000" stroke-width="1.1"/>
<rect x="253.70" y="383.96" width="3.30" height="12.29" fill="url(#hatch)"/>
<rect x="253.70" y="396.25" width="3.30" height="7.05" fill="#6a6a6a"/>
<rect x="253.70" y="403.30" width="3.30" height="0.90" fill="#000"/>
<rect x="254.25" y="384.51" width="2.20" height="19.69" fill="none" stroke="#000" stroke-width="1.1"/>
<rect x="258.70" y="389.02" width="3.30" height="14.28" fill="url(#hatch)"/>
<rect x="258.70" y="403.30" width="3.30" height="0.90" fill="#000"/>
<rect x="259.25" y="389.57" width="2.20" height="14.63" fill="none" stroke="#000" stroke-width="1.1"/>
<rect x="268.75" y="398.60" width="3.30" height="4.70" fill="url(#hatch)"/>
<rect x="268.75" y="403.30" width="3.30" height="0.90" fill="#000"/>
<rect x="269.30" y="399.15" width="2.20" height="5.05" fill="none" stroke="#000" stroke-width="1.1"/>
<rect x="273.75" y="394.26" width="3.30" height="9.03" fill="url(#hatch)"/>
<rect x="273.75" y="403.30" width="3.30" height="0.90" fill="#000"/>
<rect x="274.30" y="394.81" width="2.20" height="9.39" fill="none" stroke="#000" stroke-width="1.1"/>
<rect x="278.75" y="391.19" width="3.30" height="12.11" fill="url(#hatch)"/>
<rect x="278.75" y="403.30" width="3.30" height="0.90" fill="#000"/>
<rect x="279.30" y="391.74" width="2.20" height="12.46" fill="none" stroke="#000" stroke-width="1.1"/>
<rect x="283.75" y="393.72" width="3.30" height="9.58" fill="url(#hatch)"/>
<rect x="283.75" y="403.30" width="3.30" height="0.90" fill="#000"/>
<rect x="284.30" y="394.27" width="2.20" height="9.93" fill="none" stroke="#000" stroke-width="1.1"/>
<rect x="298.80" y="401.13" width="3.30" height="3.07" fill="#000"/>
<rect x="299.35" y="401.68" width="2.20" height="2.52" fill="none" stroke="#000" stroke-width="1.1"/>
<rect x="303.80" y="401.13" width="3.30" height="3.07" fill="#000"/>
<rect x="304.35" y="401.68" width="2.20" height="2.52" fill="none" stroke="#000" stroke-width="1.1"/>
<rect x="308.80" y="402.39" width="3.30" height="1.81" fill="#000"/>
<rect x="309.35" y="402.94" width="2.20" height="1.26" fill="none" stroke="#000" stroke-width="1.1"/>
<rect x="313.80" y="402.75" width="3.30" height="1.45" fill="#000"/>
<rect x="314.35" y="403.30" width="2.20" height="0.90" fill="none" stroke="#000" stroke-width="1.1"/>
<rect x="323.83" y="401.49" width="3.30" height="2.71" fill="#000"/>
<rect x="324.38" y="402.04" width="2.20" height="2.16" fill="none" stroke="#000" stroke-width="1.1"/>
<rect x="328.83" y="402.21" width="3.30" height="1.99" fill="#000"/>
<rect x="329.38" y="402.76" width="2.20" height="1.44" fill="none" stroke="#000" stroke-width="1.1"/>
<rect x="333.83" y="403.12" width="3.30" height="1.08" fill="#000"/>
<rect x="334.38" y="403.67" width="2.20" height="0.53" fill="none" stroke="#000" stroke-width="1.1"/>
<rect x="338.83" y="403.12" width="3.30" height="1.08" fill="#000"/>
<rect x="339.38" y="403.67" width="2.20" height="0.53" fill="none" stroke="#000" stroke-width="1.1"/>
<rect x="348.86" y="402.94" width="3.30" height="1.26" fill="#000"/>
<rect x="349.41" y="403.49" width="2.20" height="0.71" fill="none" stroke="#000" stroke-width="1.1"/>
<rect x="353.86" y="402.39" width="3.30" height="1.81" fill="#000"/>
<rect x="354.41" y="402.94" width="2.20" height="1.26" fill="none" stroke="#000" stroke-width="1.1"/>
<rect x="358.86" y="403.30" width="3.30" height="0.90" fill="#000"/>
<rect x="359.41" y="403.85" width="2.20" height="0.35" fill="none" stroke="#000" stroke-width="1.1"/>
<rect x="363.86" y="403.30" width="3.30" height="0.90" fill="#000"/>
<rect x="364.41" y="403.85" width="2.20" height="0.35" fill="none" stroke="#000" stroke-width="1.1"/>
<rect x="373.89" y="374.75" width="3.30" height="28.55" fill="#6a6a6a"/>
<rect x="373.89" y="403.30" width="3.30" height="0.90" fill="#000"/>
<rect x="374.44" y="375.30" width="2.20" height="28.90" fill="none" stroke="#000" stroke-width="1.1"/>
<rect x="378.89" y="387.03" width="3.30" height="16.26" fill="#6a6a6a"/>
<rect x="378.89" y="403.30" width="3.30" height="0.90" fill="#000"/>
<rect x="379.44" y="387.58" width="2.20" height="16.62" fill="none" stroke="#000" stroke-width="1.1"/>
<rect x="383.89" y="395.35" width="3.30" height="7.95" fill="#6a6a6a"/>
<rect x="383.89" y="403.30" width="3.30" height="0.90" fill="#000"/>
<rect x="384.44" y="395.90" width="2.20" height="8.30" fill="none" stroke="#000" stroke-width="1.1"/>
<rect x="388.89" y="394.44" width="3.30" height="8.85" fill="#6a6a6a"/>
<rect x="388.89" y="403.30" width="3.30" height="0.90" fill="#000"/>
<rect x="389.44" y="394.99" width="2.20" height="9.21" fill="none" stroke="#000" stroke-width="1.1"/>
<rect x="398.92" y="390.11" width="3.30" height="3.25" fill="#6a6a6a"/>
<rect x="398.92" y="393.36" width="3.30" height="10.84" fill="#000"/>
<rect x="399.47" y="390.66" width="2.20" height="13.54" fill="none" stroke="#000" stroke-width="1.1"/>
<rect x="403.92" y="394.44" width="3.30" height="4.34" fill="#6a6a6a"/>
<rect x="403.92" y="398.78" width="3.30" height="5.42" fill="#000"/>
<rect x="404.47" y="394.99" width="2.20" height="9.21" fill="none" stroke="#000" stroke-width="1.1"/>
<rect x="408.92" y="398.60" width="3.30" height="4.70" fill="#6a6a6a"/>
<rect x="408.92" y="403.30" width="3.30" height="0.90" fill="#000"/>
<rect x="409.47" y="399.15" width="2.20" height="5.05" fill="none" stroke="#000" stroke-width="1.1"/>
<rect x="413.92" y="398.24" width="3.30" height="2.35" fill="url(#hatch)"/>
<rect x="413.92" y="400.59" width="3.30" height="2.71" fill="#6a6a6a"/>
<rect x="413.92" y="403.30" width="3.30" height="0.90" fill="#000"/>
<rect x="414.47" y="398.79" width="2.20" height="5.41" fill="none" stroke="#000" stroke-width="1.1"/>
<rect x="423.95" y="398.24" width="3.30" height="5.06" fill="#6a6a6a"/>
<rect x="423.95" y="403.30" width="3.30" height="0.90" fill="#000"/>
<rect x="424.50" y="398.79" width="2.20" height="5.41" fill="none" stroke="#000" stroke-width="1.1"/>
<rect x="428.95" y="401.49" width="3.30" height="2.71" fill="#000"/>
<rect x="429.50" y="402.04" width="2.20" height="2.16" fill="none" stroke="#000" stroke-width="1.1"/>
<rect x="433.95" y="402.75" width="3.30" height="1.45" fill="#000"/>
<rect x="434.50" y="403.30" width="2.20" height="0.90" fill="none" stroke="#000" stroke-width="1.1"/>
<rect x="438.95" y="402.94" width="3.30" height="1.26" fill="#000"/>
<rect x="439.50" y="403.49" width="2.20" height="0.71" fill="none" stroke="#000" stroke-width="1.1"/>
<rect x="448.98" y="400.77" width="3.30" height="3.43" fill="#000"/>
<rect x="449.53" y="401.32" width="2.20" height="2.88" fill="none" stroke="#000" stroke-width="1.1"/>
<rect x="453.98" y="400.41" width="3.30" height="3.79" fill="#000"/>
<rect x="454.53" y="400.96" width="2.20" height="3.24" fill="none" stroke="#000" stroke-width="1.1"/>
<rect x="474.01" y="395.16" width="3.30" height="8.13" fill="#6a6a6a"/>
<rect x="474.01" y="403.30" width="3.30" height="0.90" fill="#000"/>
<rect x="474.56" y="395.71" width="2.20" height="8.49" fill="none" stroke="#000" stroke-width="1.1"/>
<rect x="37.7" y="223.5" width="480.50000000000006" height="180.7" fill="none" stroke="#111" stroke-width="1.1"/>
<line x1="37.7" y1="404.2" x2="518.2" y2="404.2" stroke="#000" stroke-width="1.2"/>
<line x1="291.7" y1="223.5" x2="291.7" y2="404.2" stroke="#111" stroke-width="1"/>
<line x1="32.5" y1="404.20" x2="37.7" y2="404.20" stroke="#222" stroke-width="0.9"/>
<text x="30.500000000000004" y="407.40" text-anchor="end" class="tk">0</text>
<line x1="34.6" y1="400.59" x2="37.7" y2="400.59" stroke="#222" stroke-width="0.7"/>
<line x1="34.6" y1="396.97" x2="37.7" y2="396.97" stroke="#222" stroke-width="0.7"/>
<line x1="34.6" y1="393.36" x2="37.7" y2="393.36" stroke="#222" stroke-width="0.7"/>
<line x1="34.6" y1="389.74" x2="37.7" y2="389.74" stroke="#222" stroke-width="0.7"/>
<line x1="32.5" y1="386.13" x2="37.7" y2="386.13" stroke="#222" stroke-width="0.9"/>
<text x="30.500000000000004" y="389.33" text-anchor="end" class="tk">10</text>
<line x1="34.6" y1="382.52" x2="37.7" y2="382.52" stroke="#222" stroke-width="0.7"/>
<line x1="34.6" y1="378.90" x2="37.7" y2="378.90" stroke="#222" stroke-width="0.7"/>
<line x1="34.6" y1="375.29" x2="37.7" y2="375.29" stroke="#222" stroke-width="0.7"/>
<line x1="34.6" y1="371.67" x2="37.7" y2="371.67" stroke="#222" stroke-width="0.7"/>
<line x1="32.5" y1="368.06" x2="37.7" y2="368.06" stroke="#222" stroke-width="0.9"/>
<text x="30.500000000000004" y="371.26" text-anchor="end" class="tk">20</text>
<line x1="34.6" y1="364.45" x2="37.7" y2="364.45" stroke="#222" stroke-width="0.7"/>
<line x1="34.6" y1="360.83" x2="37.7" y2="360.83" stroke="#222" stroke-width="0.7"/>
<line x1="34.6" y1="357.22" x2="37.7" y2="357.22" stroke="#222" stroke-width="0.7"/>
<line x1="34.6" y1="353.60" x2="37.7" y2="353.60" stroke="#222" stroke-width="0.7"/>
<line x1="32.5" y1="349.99" x2="37.7" y2="349.99" stroke="#222" stroke-width="0.9"/>
<text x="30.500000000000004" y="353.19" text-anchor="end" class="tk">30</text>
<line x1="34.6" y1="346.38" x2="37.7" y2="346.38" stroke="#222" stroke-width="0.7"/>
<line x1="34.6" y1="342.76" x2="37.7" y2="342.76" stroke="#222" stroke-width="0.7"/>
<line x1="34.6" y1="339.15" x2="37.7" y2="339.15" stroke="#222" stroke-width="0.7"/>
<line x1="34.6" y1="335.53" x2="37.7" y2="335.53" stroke="#222" stroke-width="0.7"/>
<line x1="32.5" y1="331.92" x2="37.7" y2="331.92" stroke="#222" stroke-width="0.9"/>
<text x="30.500000000000004" y="335.12" text-anchor="end" class="tk">40</text>
<line x1="34.6" y1="328.31" x2="37.7" y2="328.31" stroke="#222" stroke-width="0.7"/>
<line x1="34.6" y1="324.69" x2="37.7" y2="324.69" stroke="#222" stroke-width="0.7"/>
<line x1="34.6" y1="321.08" x2="37.7" y2="321.08" stroke="#222" stroke-width="0.7"/>
<line x1="34.6" y1="317.46" x2="37.7" y2="317.46" stroke="#222" stroke-width="0.7"/>
<line x1="32.5" y1="313.85" x2="37.7" y2="313.85" stroke="#222" stroke-width="0.9"/>
<text x="30.500000000000004" y="317.05" text-anchor="end" class="tk">50</text>
<line x1="34.6" y1="310.24" x2="37.7" y2="310.24" stroke="#222" stroke-width="0.7"/>
<line x1="34.6" y1="306.62" x2="37.7" y2="306.62" stroke="#222" stroke-width="0.7"/>
<line x1="34.6" y1="303.01" x2="37.7" y2="303.01" stroke="#222" stroke-width="0.7"/>
<line x1="34.6" y1="299.39" x2="37.7" y2="299.39" stroke="#222" stroke-width="0.7"/>
<line x1="32.5" y1="295.78" x2="37.7" y2="295.78" stroke="#222" stroke-width="0.9"/>
<text x="30.500000000000004" y="298.98" text-anchor="end" class="tk">60</text>
<line x1="34.6" y1="292.17" x2="37.7" y2="292.17" stroke="#222" stroke-width="0.7"/>
<line x1="34.6" y1="288.55" x2="37.7" y2="288.55" stroke="#222" stroke-width="0.7"/>
<line x1="34.6" y1="284.94" x2="37.7" y2="284.94" stroke="#222" stroke-width="0.7"/>
<line x1="34.6" y1="281.32" x2="37.7" y2="281.32" stroke="#222" stroke-width="0.7"/>
<line x1="32.5" y1="277.71" x2="37.7" y2="277.71" stroke="#222" stroke-width="0.9"/>
<text x="30.500000000000004" y="280.91" text-anchor="end" class="tk">70</text>
<line x1="34.6" y1="274.10" x2="37.7" y2="274.10" stroke="#222" stroke-width="0.7"/>
<line x1="34.6" y1="270.48" x2="37.7" y2="270.48" stroke="#222" stroke-width="0.7"/>
<line x1="34.6" y1="266.87" x2="37.7" y2="266.87" stroke="#222" stroke-width="0.7"/>
<line x1="34.6" y1="263.25" x2="37.7" y2="263.25" stroke="#222" stroke-width="0.7"/>
<line x1="32.5" y1="259.64" x2="37.7" y2="259.64" stroke="#222" stroke-width="0.9"/>
<text x="30.500000000000004" y="262.84" text-anchor="end" class="tk">80</text>
<line x1="34.6" y1="256.03" x2="37.7" y2="256.03" stroke="#222" stroke-width="0.7"/>
<line x1="34.6" y1="252.41" x2="37.7" y2="252.41" stroke="#222" stroke-width="0.7"/>
<line x1="34.6" y1="248.80" x2="37.7" y2="248.80" stroke="#222" stroke-width="0.7"/>
<line x1="34.6" y1="245.18" x2="37.7" y2="245.18" stroke="#222" stroke-width="0.7"/>
<line x1="32.5" y1="241.57" x2="37.7" y2="241.57" stroke="#222" stroke-width="0.9"/>
<text x="30.500000000000004" y="244.77" text-anchor="end" class="tk">90</text>
<line x1="34.6" y1="237.96" x2="37.7" y2="237.96" stroke="#222" stroke-width="0.7"/>
<line x1="34.6" y1="234.34" x2="37.7" y2="234.34" stroke="#222" stroke-width="0.7"/>
<line x1="34.6" y1="230.73" x2="37.7" y2="230.73" stroke="#222" stroke-width="0.7"/>
<line x1="34.6" y1="227.11" x2="37.7" y2="227.11" stroke="#222" stroke-width="0.7"/>
<line x1="32.5" y1="223.50" x2="37.7" y2="223.50" stroke="#222" stroke-width="0.9"/>
<text x="30.500000000000004" y="226.70" text-anchor="end" class="tk">100</text>
<text x="39.7" y="238.6" class="pl">B.</text>
<text x="190.6" y="237.2" class="hd">50 cells BodVer-low</text>
<text x="304" y="237.2" class="hd">200 cells BodVer-high</text>
<text x="52.10" y="421.6" text-anchor="middle" class="tk">1</text>
<text x="78.60" y="421.6" text-anchor="middle" class="tk">2</text>
<text x="101.10" y="421.6" text-anchor="middle" class="tk">3</text>
<text x="126.60" y="421.6" text-anchor="middle" class="tk">4</text>
<text x="152.85" y="421.6" text-anchor="middle" class="tk">5</text>
<text x="176.85" y="421.6" text-anchor="middle" class="tk">6</text>
<text x="203.10" y="421.6" text-anchor="middle" class="tk">7</text>
<text x="228.00" y="421.6" text-anchor="middle" class="tk">8</text>
<text x="252.10" y="421.6" text-anchor="middle" class="tk">9</text>
<text x="278.60" y="421.6" text-anchor="middle" class="tk">10</text>
<text x="307.85" y="421.6" text-anchor="middle" class="tk">1</text>
<text x="332.35" y="421.6" text-anchor="middle" class="tk">2</text>
<text x="358.60" y="421.6" text-anchor="middle" class="tk">3</text>
<text x="382.60" y="421.6" text-anchor="middle" class="tk">4</text>
<text x="407.80" y="421.6" text-anchor="middle" class="tk">5</text>
<text x="432.70" y="421.6" text-anchor="middle" class="tk">6</text>
<text x="458.60" y="421.6" text-anchor="middle" class="tk">7</text>
<text x="482.20" y="421.6" text-anchor="middle" class="tk">8</text>
<text x="507.10" y="421.6" text-anchor="middle" class="tk">9</text>
<text x="246.2" y="435.2" class="ti">Individual Animals</text>
<text transform="translate(9.8 314.8) rotate(-90)" text-anchor="middle" class="ti">Percent Donor Cells</text>
<rect x="412.1" y="246.8" width="95.0" height="63.0" fill="#fff" stroke="#111" stroke-width="1"/>
<rect x="420.7" y="251.40" width="13.4" height="13.4" fill="url(#hatchL)" stroke="#111" stroke-width="0.8"/>
<text x="441.5" y="261.10" class="lg">Donor T</text>
<rect x="420.7" y="272.30" width="13.4" height="13.4" fill="#6e6e6e" stroke="#111" stroke-width="0.8"/>
<text x="441.5" y="282.00" class="lg">Donor B</text>
<rect x="420.7" y="293.20" width="13.4" height="13.4" fill="#000" stroke="#111" stroke-width="0.8"/>
<text x="441.5" y="302.90" class="lg">Donor Myeloid</text>
</g></svg></body></html>
